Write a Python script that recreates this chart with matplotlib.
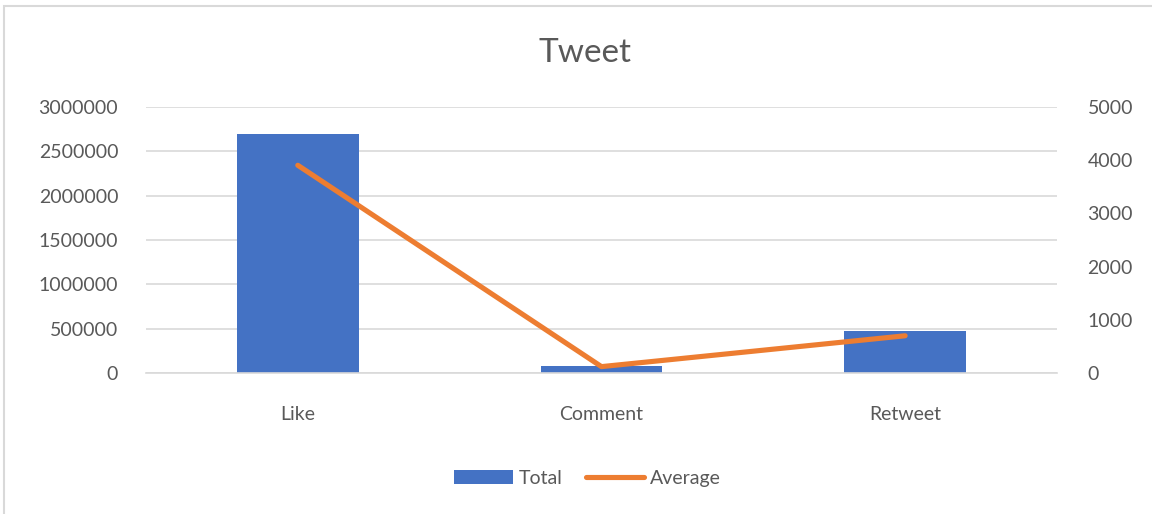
import matplotlib
matplotlib.use("Agg")
import matplotlib.pyplot as plt
from matplotlib.patches import Rectangle
import numpy as np

categories = ["Like", "Comment", "Retweet"]
total = [2693000, 75000, 472000]
average = [3905, 120, 700]

plt.rcParams["font.family"] = ["Lato", "DejaVu Sans"]
text_color = "#595959"
grid_color = "#d9d9d9"

fig = plt.figure(figsize=(11.52, 5.14), dpi=100)
ax = fig.add_axes([0.1267, 0.2743, 0.7908, 0.5175])
ax2 = ax.twinx()

x = np.arange(len(categories))
ax.bar(x, total, width=0.4, color="#4472c4", label="Total", zorder=2)
ax2.plot(x, average, color="#ed7d31", linewidth=3.7, solid_capstyle="round",
         label="Average", zorder=3)

ax.set_xlim(-0.5, 2.5)
ax.set_ylim(0, 3000000)
ax.set_yticks(np.arange(0, 3000001, 500000))
ax.set_yticklabels([str(v) for v in range(0, 3000001, 500000)])
ax2.set_ylim(0, 5000)
ax2.set_yticks(np.arange(0, 5001, 1000))

ax.set_xticks(x)
ax.set_xticklabels(categories)
ax.grid(True, axis="y", color=grid_color, linewidth=1.2, zorder=0)
ax.set_axisbelow(True)

for a in (ax, ax2):
    for s in a.spines.values():
        s.set_visible(False)
    a.tick_params(length=0, labelsize=14, colors=text_color)
ax.spines["bottom"].set_visible(True)
ax.spines["bottom"].set_color(grid_color)
ax.spines["bottom"].set_linewidth(1.2)
ax.tick_params(axis="y", pad=20)
ax.tick_params(axis="x", pad=24)
ax2.tick_params(axis="y", pad=22)

fig.text(0.508, 0.897, "Tweet", ha="center", va="center", fontsize=24, color=text_color)

h1, l1 = ax.get_legend_handles_labels()
h2, l2 = ax2.get_legend_handles_labels()
fig.legend(h1 + h2, l1 + l2, loc="center", bbox_to_anchor=(0.51, 0.07), ncol=2,
           frameon=False, fontsize=14, labelcolor=text_color, handlelength=3.0,
           handletextpad=0.3, columnspacing=1.2)

fig.patches.append(Rectangle((4 / 1152, -0.1), 1.2, (508 / 514) + 0.1,
                             transform=fig.transFigure, fill=False,
                             edgecolor=grid_color, linewidth=1.5))

fig.savefig("out.png", dpi=100)
